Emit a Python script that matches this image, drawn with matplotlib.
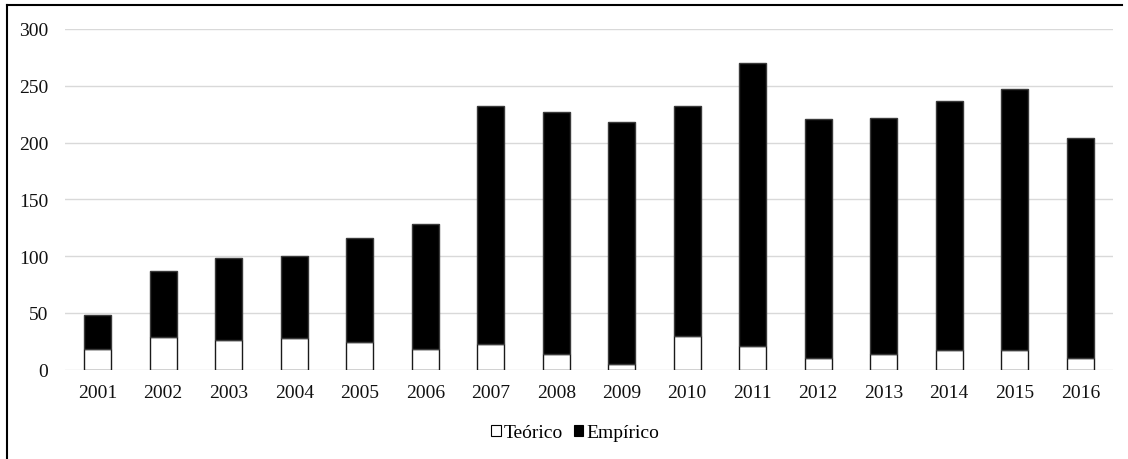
import numpy as np
import matplotlib.pyplot as plt
from matplotlib.patches import Patch
from matplotlib.lines import Line2D

plt.rcParams['font.family'] = ['Liberation Serif', 'DejaVu Serif']

years = ['2001', '2002', '2003', '2004', '2005', '2006', '2007', '2008',
         '2009', '2010', '2011', '2012', '2013', '2014', '2015', '2016']
teorico = [18, 29, 26, 28, 24, 18, 23, 14, 5, 30, 21, 10, 14, 17, 17, 10]
total = [48, 87, 98, 100, 116, 128, 232, 227, 218, 232, 270, 221, 222, 237, 247, 204]
empirico = [t - a for t, a in zip(total, teorico)]

fig = plt.figure(figsize=(11.28, 4.6), dpi=100)
ax = fig.add_axes([65 / 1128, 1 - 370.7 / 460, 1048 / 1128, 340.7 / 460])

x = np.arange(len(years))
w = 0.41
ax.bar(x, teorico, w, color='white', edgecolor='#1a1a1a', linewidth=1, zorder=3)
ax.bar(x, empirico, w, bottom=teorico, color='black', edgecolor='#3a3a3a',
       linewidth=1, zorder=3)

ax.set_xlim(-0.5, len(years) - 0.5)
ax.set_ylim(0, 300)
ax.set_yticks(range(0, 301, 50))
ax.set_xticks(x)
ax.set_xticklabels(years)
ax.grid(axis='y', color='#d9d9d9', linewidth=1, zorder=0)
ax.set_axisbelow(True)
for s in ax.spines.values():
    s.set_visible(False)
ax.tick_params(length=0, labelsize=14, colors='#111111')
ax.tick_params(axis='x', pad=10)
ax.tick_params(axis='y', pad=12)

handles = [Patch(facecolor='white', edgecolor='black', linewidth=0.8, label='Teórico'),
           Patch(facecolor='black', edgecolor='black', linewidth=0.8, label='Empírico')]
fig.legend(handles=handles, loc='center', bbox_to_anchor=(575 / 1128, 1 - 434 / 460),
           ncol=2, frameon=False, fontsize=14, handlelength=0.5, handleheight=0.5,
           handletextpad=0.15, columnspacing=0.55)

# frame lines at the left and top edge
fig.add_artist(Line2D([7 / 1128, 7 / 1128], [0, 1 - 6 / 460], color='black', linewidth=1.5))
fig.add_artist(Line2D([7 / 1128, 1122 / 1128], [1 - 6 / 460, 1 - 6 / 460],
                      color='black', linewidth=1.5))

fig.savefig('out.png', dpi=100)
